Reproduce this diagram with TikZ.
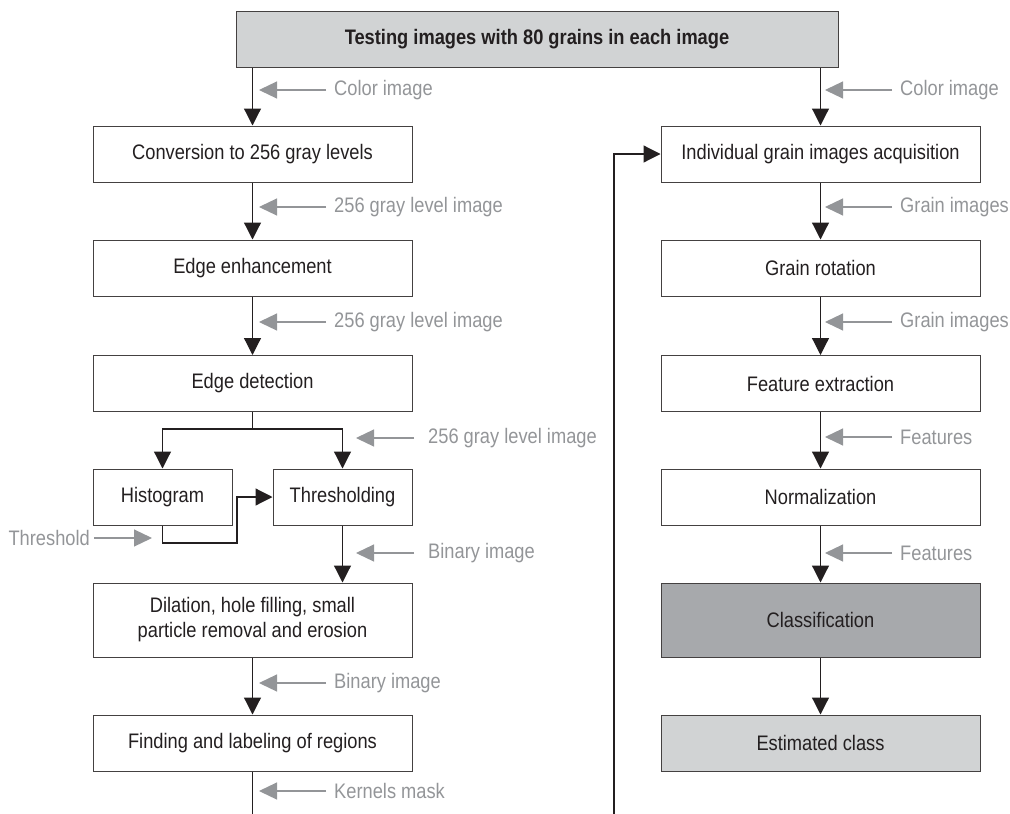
\documentclass[tikz,border=0pt]{standalone}
\usepackage{fontspec}
\setmainfont{Liberation Sans}[FakeStretch=0.87]
\usepackage{xcolor}
\usetikzlibrary{arrows.meta}
\definecolor{boxgray}{HTML}{D1D3D4}
\definecolor{clsgray}{HTML}{A7A9AC}
\definecolor{lblgray}{HTML}{939598}
\definecolor{ink}{HTML}{231F20}
\tikzset{
  box/.style={draw=ink!85, line width=1pt, text=ink, minimum width=319pt, minimum height=56pt,
    inner sep=0pt, align=center, font=\fontsize{21}{25}\selectfont},
  smallbox/.style={box, minimum width=139pt},
  lbl/.style={text=lblgray, anchor=west, inner sep=0pt, font=\fontsize{21}{25}\selectfont},
  arr/.style={draw=ink, line width=1.2pt, -{Triangle[width=17pt,length=17pt]}},
  garr/.style={draw=lblgray, line width=1.2pt, -{Triangle[width=17pt,length=18pt]}}
}
\begin{document}
\begin{tikzpicture}[x=1pt,y=-1pt]
\useasboundingbox (0,0) rectangle (1010,814);
% top
\node[box, fill=boxgray, minimum width=602pt, font=\fontsize{21}{25}\selectfont\bfseries] (top) at (537,39) {Testing images with 80 grains in each image};
% left column
\node[box] (conv) at (252.5,154) {Conversion to 256 gray levels};
\node[box] (enh) at (252.5,268) {Edge enhancement};
\node[box] (det) at (252.5,383.5) {Edge detection};
\node[smallbox] (hist) at (162.5,497) {Histogram};
\node[smallbox] (thr) at (342.5,497) {Thresholding};
\node[box, minimum height=74pt] (dil) at (252.5,620) {Dilation, hole filling, small\\particle removal and erosion};
\node[box] (find) at (252.5,743) {Finding and labeling of regions};
% right column
\node[box] (ind) at (820.5,154) {Individual grain images acquisition};
\node[box] (rot) at (820.5,268) {Grain rotation};
\node[box] (feat) at (820.5,383.5) {Feature extraction};
\node[box] (norm) at (820.5,497) {Normalization};
\node[box, fill=clsgray, minimum height=74pt] (cls) at (820.5,620) {Classification};
\node[box, fill=boxgray] (est) at (820.5,743) {Estimated class};
% flow
\draw[arr] (conv.north |- top.south) -- (conv.north);
\draw[arr] (conv) -- (enh);
\draw[arr] (enh) -- (det);
\draw[arr] (det.south) -- ++(0,17) -| (hist.north);
\draw[arr] (det.south) -- ++(0,17) -| (thr.north);
\coordinate (hk) at (237,543);
\draw[arr] (hist.south) |- (hk) |- (thr.west);
\draw[arr] (thr.south) -- (thr.south |- dil.north);
\draw[arr] (dil) -- (find);
\coordinate (lend) at (252.5,814);
\draw[draw=ink, line width=1.2pt] (find.south) -- (lend);
\coordinate (fb) at (614,814);
\draw[arr] (fb) |- (ind.west);
\draw[arr] (ind.north |- top.south) -- (ind.north);
\draw[arr] (ind) -- (rot);
\draw[arr] (rot) -- (feat);
\draw[arr] (feat) -- (norm);
\draw[arr] (norm) -- (cls);
\draw[arr] (cls) -- (est);
% labels
\node[lbl] (l1) at (334,90) {Color image};
\node[lbl] (l2) at (334,207) {256 gray level image};
\node[lbl] (l3) at (334,322) {256 gray level image};
\node[lbl] (l4) at (428,438) {256 gray level image};
\node[lbl] (l5) at (428,553) {Binary image};
\node[lbl] (l6) at (334,683) {Binary image};
\node[lbl] (l7) at (334,791) {Kernels mask};
\node[lbl, anchor=east] (l8) at (90,538) {Threshold};
\node[lbl] (r1) at (900,90) {Color image};
\node[lbl] (r2) at (900,207) {Grain images};
\node[lbl] (r3) at (900,322) {Grain images};
\node[lbl] (r4) at (900,437) {Features};
\node[lbl] (r5) at (900,553) {Features};
\foreach \n in {l1,l2,l3,l6,l7,r1,r2,r3,r4,r5}
  \draw[garr] ([xshift=-8pt]\n.west) -- ++(-67pt,0);
\foreach \n in {l4,l5}
  \draw[garr] ([xshift=-14pt]\n.west) -- ++(-58pt,0);
\draw[garr] ([xshift=4pt]l8.east) -- ++(58pt,0);
\end{tikzpicture}
\end{document}
